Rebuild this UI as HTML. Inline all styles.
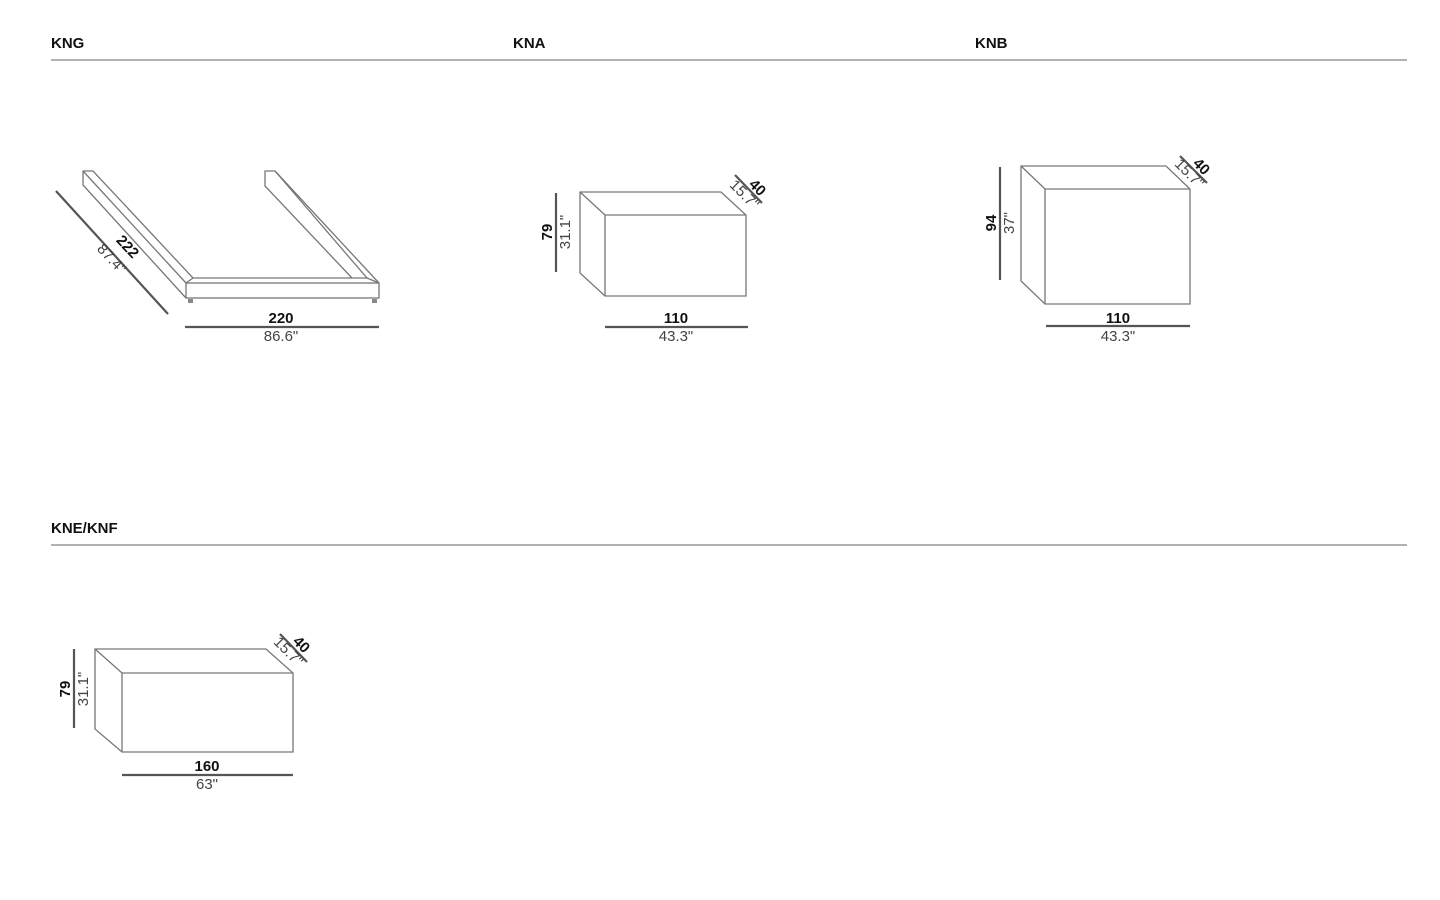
<!DOCTYPE html>
<html><head><meta charset="utf-8"><style>
html,body{margin:0;padding:0;background:#fff;width:1440px;height:900px;overflow:hidden}
svg{display:block}
.h{font-family:"Liberation Sans",sans-serif;font-weight:bold;font-size:15px;fill:#111}
.b{font-family:"Liberation Sans",sans-serif;font-weight:bold;font-size:15px;fill:#111}
.r{font-family:"Liberation Sans",sans-serif;font-size:15px;fill:#444}
.o{fill:none;stroke:#777;stroke-width:1.3}
.d{stroke:#555;stroke-width:2.2}
</style></head><body>
<svg width="1440" height="900" viewBox="0 0 1440 900">
<text class="h" x="51" y="48">KNG</text>
<text class="h" x="513" y="48">KNA</text>
<text class="h" x="975" y="48">KNB</text>
<line x1="51" y1="60" x2="1407" y2="60" stroke="#999" stroke-width="1.5"/>
<text class="h" x="51" y="533">KNE/KNF</text>
<line x1="51" y1="545" x2="1407" y2="545" stroke="#999" stroke-width="1.5"/>

<!-- KNG -->
<g class="o">
<polyline points="186,298 83,185 83,171 93,171 193,278 367,278 275,171 265,171 265,186 352,278"/>
<rect x="186" y="283" width="193" height="15"/>
<line x1="186" y1="283" x2="83" y2="171"/>
<line x1="379" y1="283" x2="275" y2="171"/>
<line x1="193" y1="278" x2="186" y2="283"/>
<line x1="367" y1="278" x2="379" y2="283"/>
</g>
<rect x="188" y="299" width="5" height="4" fill="#888"/>
<rect x="372" y="299" width="5" height="4" fill="#888"/>
<line class="d" x1="56" y1="191" x2="168" y2="314"/>
<line class="d" x1="185" y1="327" x2="379" y2="327"/>
<text class="b" x="281" y="323" text-anchor="middle">220</text>
<text class="r" x="281" y="341" text-anchor="middle">86.6"</text>
<text class="b" transform="translate(124,250) rotate(47)" text-anchor="middle">222</text>
<text class="r" transform="translate(108,262) rotate(47)" text-anchor="middle">87.4"</text>

<!-- KNA -->
<g class="o">
<polygon points="580,192 721,192 746,215 746,296 605,296 580,273"/>
<polyline points="580,192 605,215 746,215"/>
<line x1="605" y1="215" x2="605" y2="296"/>
</g>
<line class="d" x1="556" y1="193" x2="556" y2="272"/>
<line class="d" x1="605" y1="327" x2="748" y2="327"/>
<line class="d" x1="735" y1="175" x2="762" y2="203" stroke-width="1.5"/>
<text class="b" transform="translate(552,232) rotate(-90)" text-anchor="middle">79</text>
<text class="r" transform="translate(570,232) rotate(-90)" text-anchor="middle">31.1"</text>
<text class="b" x="676" y="323" text-anchor="middle">110</text>
<text class="r" x="676" y="341" text-anchor="middle">43.3"</text>
<text class="b" transform="translate(754,191) rotate(45)" text-anchor="middle">40</text>
<text class="r" transform="translate(741,198) rotate(45)" text-anchor="middle">15.7"</text>

<!-- KNB -->
<g class="o">
<polygon points="1021,166 1166,166 1190,189 1190,304 1045,304 1021,281"/>
<polyline points="1021,166 1045,189 1190,189"/>
<line x1="1045" y1="189" x2="1045" y2="304"/>
</g>
<line class="d" x1="1000" y1="167" x2="1000" y2="280"/>
<line class="d" x1="1046" y1="326" x2="1190" y2="326"/>
<line class="d" x1="1180" y1="156" x2="1207" y2="183" stroke-width="1.5"/>
<text class="b" transform="translate(996,223) rotate(-90)" text-anchor="middle">94</text>
<text class="r" transform="translate(1014,223) rotate(-90)" text-anchor="middle">37"</text>
<text class="b" x="1118" y="323" text-anchor="middle">110</text>
<text class="r" x="1118" y="341" text-anchor="middle">43.3"</text>
<text class="b" transform="translate(1198,170) rotate(45)" text-anchor="middle">40</text>
<text class="r" transform="translate(1186,177) rotate(45)" text-anchor="middle">15.7"</text>

<!-- KNE/KNF -->
<g class="o">
<polygon points="95,649 266,649 293,673 293,752 122,752 95,729"/>
<polyline points="95,649 122,673 293,673"/>
<line x1="122" y1="673" x2="122" y2="752"/>
</g>
<line class="d" x1="74" y1="649" x2="74" y2="728"/>
<line class="d" x1="122" y1="775" x2="293" y2="775"/>
<line class="d" x1="280" y1="634" x2="307" y2="662" stroke-width="1.5"/>
<text class="b" transform="translate(70,689) rotate(-90)" text-anchor="middle">79</text>
<text class="r" transform="translate(88,689) rotate(-90)" text-anchor="middle">31.1"</text>
<text class="b" x="207" y="771" text-anchor="middle">160</text>
<text class="r" x="207" y="789" text-anchor="middle">63"</text>
<text class="b" transform="translate(298,648) rotate(45)" text-anchor="middle">40</text>
<text class="r" transform="translate(285,655) rotate(45)" text-anchor="middle">15.7"</text>
</svg>
</body></html>
